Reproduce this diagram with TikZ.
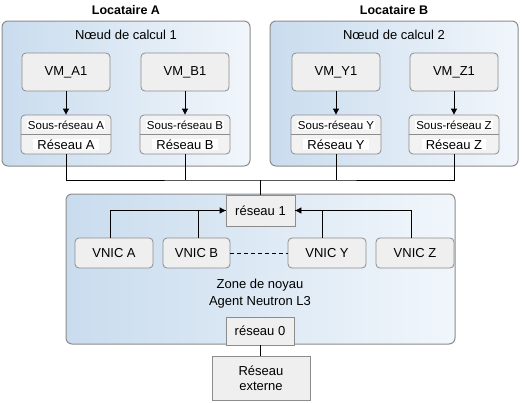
\documentclass[tikz,border=0pt]{standalone}
\usepackage{fontspec}
\setmainfont{Liberation Sans}
\usetikzlibrary{arrows.meta}
\definecolor{blueL}{HTML}{C9DCEE}
\definecolor{blueR}{HTML}{F1F6FB}
\definecolor{bordr}{HTML}{8C8C8C}
\definecolor{boxfill}{HTML}{EFEFEF}
\definecolor{subfill}{HTML}{F2F2F2}
\tikzset{
  outerbox/.style={draw=bordr, line width=1pt, rounded corners=6pt, left color=blueL, right color=blueR},
  vmbox/.style={draw=bordr, line width=0.8pt, rounded corners=4pt, fill=boxfill, minimum width=88pt, minimum height=38pt, font=\fontsize{13}{15}\selectfont, inner sep=0pt},
  subbox/.style={draw=bordr, line width=0.8pt, rounded corners=4pt, fill=subfill, minimum width=90pt, minimum height=39pt, inner sep=0pt},
  vnicbox/.style={draw=bordr, line width=0.8pt, rounded corners=4pt, fill=boxfill, minimum width=78pt, minimum height=30pt, font=\fontsize{13}{15}\selectfont, inner sep=0pt},
  netbox/.style={draw=bordr, line width=0.8pt, fill=boxfill, font=\fontsize{13}{15}\selectfont, inner sep=0pt, align=center},
  lbl/.style={font=\fontsize{13}{15}\selectfont, inner sep=0pt},
  title/.style={font=\fontsize{12.5}{15}\selectfont\bfseries, inner sep=0pt},
  sublbl/.style={font=\fontsize{11.5}{13}\selectfont, fill=white, inner sep=1pt},
  netlbl/.style={font=\fontsize{13}{15}\selectfont, fill=white, inner xsep=4pt, inner ysep=1pt},
  conn/.style={draw=black, line width=0.8pt},
  arr/.style={conn, -{Triangle[length=6pt,width=6pt]}},
}
\begin{document}
\begin{tikzpicture}[x=1pt,y=-1pt]
\useasboundingbox (0,0) rectangle (522,402);
% titles
\node[title] (ta) at (126,10) {Locataire A};
\node[title] (tb) at (394,10) {Locataire B};
% outer compute boxes
\path[outerbox] (2,21) rectangle (250,166);
\path[outerbox] (270,21) rectangle (518,166);
\node[lbl] (n1) at (126,35) {Nœud de calcul 1};
\node[lbl] (n2) at (394,35) {Nœud de calcul 2};
% VMs
\node[vmbox] (vma) at (66,72) {VM\_A1};
\node[vmbox] (vmb) at (185,72) {VM\_B1};
\node[vmbox] (vmy) at (336,72) {VM\_Y1};
\node[vmbox] (vmz) at (454,72) {VM\_Z1};
% subnets
\foreach \nm/\x/\a/\b in {sa/66/Sous-réseau A/Réseau A, sb/185/Sous-réseau B/Réseau B, sy/336/Sous-réseau Y/Réseau Y, sz/454/Sous-réseau Z/Réseau Z}{
  \node[subbox] (\nm) at (\x,134.5) {};
  \draw[draw=bordr, line width=0.8pt] (\nm.west |- 0,134.5) -- (\nm.east |- 0,134.5);
  \node[sublbl] (\nm t) at (\x,125) {\a};
  \node[netlbl] (\nm b) at (\x,144.5) {\b};
}
\draw[arr] (vma) -- (sa);
\draw[arr] (vmb) -- (sb);
\draw[arr] (vmy) -- (sy);
\draw[arr] (vmz) -- (sz);
% bottom zone
\path[outerbox] (66,194) rectangle (455,344);
\node[netbox, minimum width=69pt, minimum height=31pt] (r1) at (260.5,210.5) {réseau 1};
\coordinate (bus) at (260.5,180);
\draw[conn] (sa.south) |- (bus) -| (sz.south);
\draw[conn] (sb.south) -- (sb.south |- bus);
\draw[conn] (sy.south) -- (sy.south |- bus);
\draw[conn] (bus) -- (r1.north);
% VNICs
\node[vnicbox] (va) at (114,253) {VNIC A};
\node[vnicbox, minimum width=67pt] (vb) at (196.5,253) {VNIC B};
\node[vnicbox] (vy) at (327,253) {VNIC Y};
\node[vnicbox] (vz) at (415,253) {VNIC Z};
\draw[conn] (vb.north) ++(1.5,0) |- (r1.west);
\draw[arr] (va.north) ++(-4,0) |- (r1.west);
\draw[conn] (vy.north) ++(-5,0) |- (r1.east);
\draw[arr] (vz.north) ++(-4,0) |- (r1.east);
\draw[conn, dashed, dash pattern=on 4pt off 3pt] (vb.east) -- (vy.west);
\node[lbl] (zn) at (260,285) {Zone de noyau};
\node[lbl] (ag) at (260,302) {Agent Neutron L3};
\node[netbox, minimum width=68pt, minimum height=28pt] (r0) at (260,331) {réseau 0};
\node[netbox, minimum width=98pt, minimum height=44pt, font=\fontsize{13}{15}\selectfont] (ext) at (261,378) {Réseau\\externe};
\draw[conn] (r0.south) -- (r0.south |- ext.north);
\end{tikzpicture}
\end{document}
